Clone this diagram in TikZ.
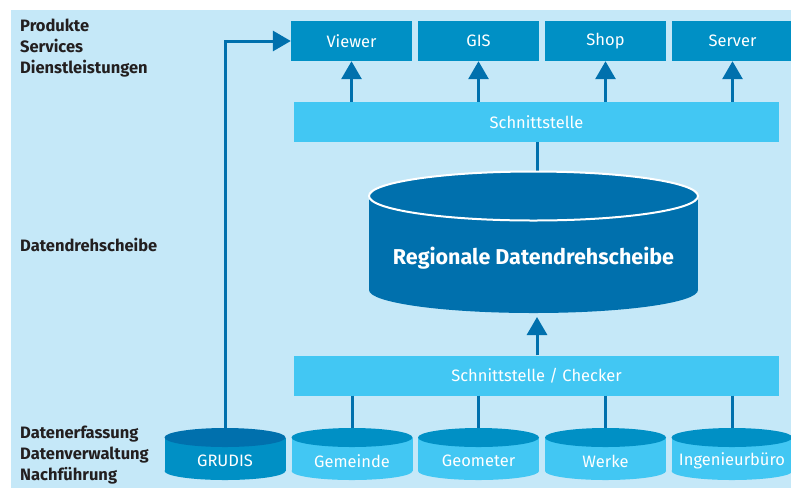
\documentclass[tikz,border=0pt]{standalone}
\usepackage{fontspec}
\setmainfont{Fira Sans}
\usetikzlibrary{arrows.meta}
\definecolor{bg}{HTML}{C5E8F8}
\definecolor{mid}{HTML}{0090C5}
\definecolor{cyanbar}{HTML}{42C7F3}
\definecolor{dark}{HTML}{0070AD}
\definecolor{lbltext}{HTML}{231F20}
\newcommand\datacyl[5]{%
  \fill[#3] (#2-60.5,437.5) rectangle (#2+60.5,471);
  \fill[#3] (#2,471) ellipse [x radius=60.5pt, y radius=9pt];
  \fill[#4] (#2,437.5) ellipse [x radius=60.5pt, y radius=9.5pt];
  \node[cyltext] (#1) at (#2,461) {#5};
  \coordinate (#1top) at (#2,428);
}
\begin{document}
\begin{tikzpicture}[x=1pt,y=-1pt,
  box/.style={fill=mid, text=white, minimum width=121pt, minimum height=40pt, inner sep=0pt, font=\fontsize{16.5}{19}\selectfont},
  bar/.style={fill=cyanbar, text=white, minimum width=485pt, minimum height=40pt, inner sep=0pt, font=\fontsize{16.5}{19}\selectfont},
  cyltext/.style={text=white, inner sep=0pt, font=\fontsize{16.5}{19}\selectfont},
  conn/.style={draw=dark, line width=3pt},
  arr/.style={conn, -{Triangle[width=20pt,length=18pt]}},
  lbl/.style={anchor=west, text=lbltext, inner sep=0pt, align=left, font=\bfseries\fontsize{16.5}{21}\selectfont}]
\useasboundingbox (0,0) rectangle (791,488);
\fill[bg] (11,10) rectangle (791,488);

% left labels
\node[lbl] (l1) at (20,48) {Produkte\\Services\\Dienstleistungen};
\node[lbl] (l2) at (20,245) {Datendrehscheibe};
\node[lbl] (l3) at (20,455) {Datenerfassung\\Datenverwaltung\\Nachführung};

% top boxes
\node[box] (viewer) at (351.5,41) {Viewer};
\node[box] (gis) at (478.5,41) {GIS};
\node[box] (shop) at (605.5,41) {Shop};
\node[box] (server) at (732.5,41) {Server};

% bars
\node[bar] (schnitt) at (536.5,122) {Schnittstelle};
\node[bar] (checker) at (536.5,375.5) {Schnittstelle / Checker};

\foreach \b in {viewer,gis,shop,server}
  \draw[arr] (schnitt.north -| \b) -- (\b.south);

% central cylinder
\coordinate (hubtop) at (537,172);
\coordinate (hubbot) at (537,317);
\draw[conn] (schnitt.south -| hubtop) -- (hubtop);
\fill[dark] (369,196) rectangle (698,290);
\fill[dark] (533.5,290) ellipse [x radius=164.5pt, y radius=23pt];
\draw[white, fill=dark, line width=2pt] (533.5,196) ellipse [x radius=164.5pt, y radius=24.5pt];
\node[text=white, inner sep=0pt, font=\bfseries\fontsize{21.5}{24}\selectfont] (hub) at (533.5,258) {Regionale Datendrehscheibe};
\draw[arr] (checker.north -| hubbot) -- (hubbot);

% source cylinders
\datacyl{grudis}{225}{mid}{dark}{GRUDIS}
\datacyl{gemeinde}{352}{cyanbar}{mid}{Gemeinde}
\datacyl{geometer}{478.5}{cyanbar}{mid}{Geometer}
\datacyl{werke}{605.5}{cyanbar}{mid}{Werke}
\datacyl{ing}{732}{cyanbar}{mid}{Ingenieurbüro}

\foreach \c in {gemeinde,geometer,werke,ing}
  \draw[conn] (checker.south -| \c top) -- (\c top);
\draw[arr] (grudistop) |- (viewer.west);
\end{tikzpicture}
\end{document}
